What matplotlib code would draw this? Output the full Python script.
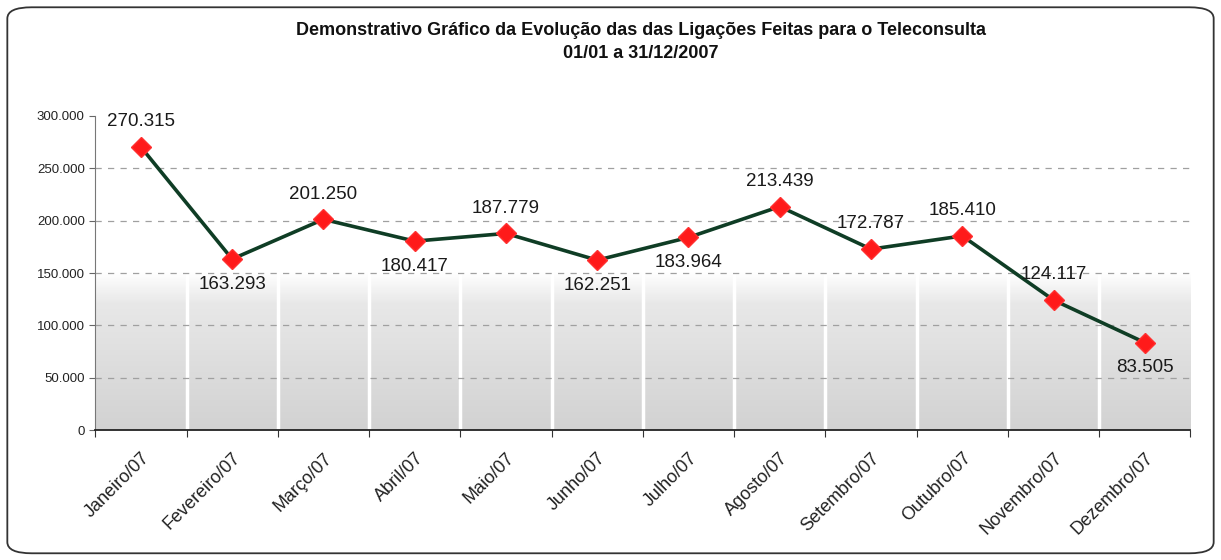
import numpy as np
import matplotlib.pyplot as plt
from matplotlib.colors import LinearSegmentedColormap
from matplotlib.patches import FancyBboxPatch

plt.rcParams['font.family'] = ['Liberation Sans', 'DejaVu Sans']

meses = ['Janeiro/07', 'Fevereiro/07', 'Março/07', 'Abril/07', 'Maio/07', 'Junho/07',
         'Julho/07', 'Agosto/07', 'Setembro/07', 'Outubro/07', 'Novembro/07', 'Dezembro/07']
ligacoes = [270315, 163293, 201250, 180417, 187779, 162251,
            183964, 213439, 172787, 185410, 124117, 83505]
rotulos = ['270.315', '163.293', '201.250', '180.417', '187.779', '162.251',
           '183.964', '213.439', '172.787', '185.410', '124.117', '83.505']
# posicao do rotulo: 1 = acima, -1 = abaixo
lado = [1, -1, 1, -1, 1, -1, -1, 1, 1, 1, 1, -1]

fig = plt.figure(figsize=(12.21, 5.6), dpi=100)

# moldura arredondada
borda = FancyBboxPatch((0.006, 0.012), 0.988, 0.975, boxstyle='round,pad=0,rounding_size=0.02',
                       transform=fig.transFigure, fill=False, edgecolor='#333333', linewidth=1.3)
fig.patches.append(borda)

ax = fig.add_axes([0.078, 0.232, 0.897, 0.561])
x = np.arange(len(meses))

# fundo: branco em cima, cinza claro na parte de baixo
cmap = LinearSegmentedColormap.from_list(
    'fundo', [(0, '#ffffff'), (0.50, '#ffffff'), (0.60, '#e8e8e8'), (1, '#d2d2d2')])
grad = np.linspace(0, 1, 300).reshape(-1, 1)
ax.imshow(grad, extent=[-0.5, 11.5, 0, 300000], aspect='auto', origin='upper',
          cmap=cmap, vmin=0, vmax=1, zorder=0)
for b in np.arange(0.5, 11.5, 1):
    ax.axvline(b, color='white', linewidth=2.5, zorder=1)

for v in range(50000, 300000, 50000):
    ax.axhline(v, color='#a0a0a0', linestyle=(0, (5, 5)), linewidth=0.9, zorder=2)

ax.plot(x, ligacoes, color='#0f3d25', linewidth=2.6, zorder=3)
ax.plot(x, ligacoes, linestyle='none', marker='D', markersize=10,
        markerfacecolor='#ff1a1a', markeredgecolor='#ff3030', zorder=4)

for xi, yi, r, s in zip(x, ligacoes, rotulos, lado):
    if s > 0:
        ax.annotate(r, (xi, yi), xytext=(0, 12), textcoords='offset points',
                    ha='center', va='bottom', fontsize=13.5, color='#1a1a1a')
    else:
        ax.annotate(r, (xi, yi), xytext=(0, -12), textcoords='offset points',
                    ha='center', va='top', fontsize=13.5, color='#1a1a1a')

ax.set_xlim(-0.5, 11.5)
ax.set_ylim(0, 300000)
ax.set_yticks(range(0, 300001, 50000))
ax.set_yticklabels(['0', '50.000', '100.000', '150.000', '200.000', '250.000', '300.000'],
                   fontsize=9.5, color='#222222')
ax.set_xticks(np.arange(-0.5, 12, 1))
ax.set_xticklabels([])
ax.set_xticks(x, minor=True)
ax.set_xticklabels(meses, minor=True, rotation=45, ha='right', rotation_mode='anchor',
                   fontsize=13, color='#222222')
ax.tick_params(axis='x', which='minor', length=0, pad=14)
ax.tick_params(axis='x', which='major', length=5, color='#333333')
ax.tick_params(axis='y', length=4, color='#666666')
for s in ['top', 'right']:
    ax.spines[s].set_visible(False)
ax.spines['bottom'].set_color('#222222')
ax.spines['bottom'].set_linewidth(1.3)
ax.spines['left'].set_color('#777777')

fig.text(0.525, 0.945, 'Demonstrativo Gráfico da Evolução das das Ligações Feitas para o Teleconsulta',
         ha='center', va='center', fontsize=13, fontweight='bold', color='#111111')
fig.text(0.525, 0.905, '01/01 a 31/12/2007', ha='center', va='center',
         fontsize=13, fontweight='bold', color='#111111')

fig.savefig('out.png', dpi=100)
